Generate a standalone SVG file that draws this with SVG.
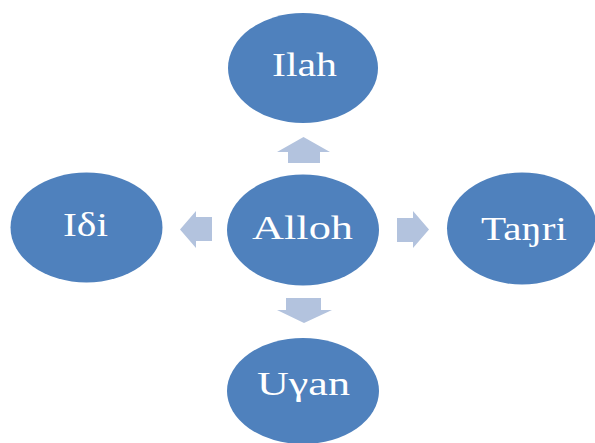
<svg xmlns="http://www.w3.org/2000/svg" width="595" height="443" viewBox="0 0 595 443">
<style>
.node{fill:#4F81BD;}
.lbl{fill:#FFFFFF;font-family:"Liberation Serif","DejaVu Serif",serif;font-size:33px;text-anchor:middle;}
.arr{fill:#B3C3DE;}
</style>
<rect width="595" height="443" fill="#FFFFFF"/>
<g id="connectors">
<polygon class="arr" points="288,163 288,152 277,152 303.5,137 330,152 320,152 320,163"/>
<polygon class="arr" points="212,217 196,217 196,211 180,229.5 196,248 196,241 212,241"/>
<polygon class="arr" points="397,218 413,218 413,211 429,229.5 413,248 413,242 397,242"/>
<polygon class="arr" points="286,298 286,310 277,310 304,323 332,310 321,310 321,298"/>
</g>
<g id="ilah"><ellipse class="node" cx="303" cy="68" rx="75" ry="55"/><text class="lbl" x="304.5" y="76" textLength="65" lengthAdjust="spacingAndGlyphs">Ilah</text></g>
<g id="alloh"><ellipse class="node" cx="303" cy="230" rx="76" ry="55.5"/><text class="lbl" x="302.5" y="239" textLength="101" lengthAdjust="spacingAndGlyphs">Alloh</text></g>
<g id="idi"><ellipse class="node" cx="86.5" cy="227.5" rx="76" ry="55"/><text class="lbl" x="85.5" y="236" textLength="45" lengthAdjust="spacingAndGlyphs">Iδi</text></g>
<g id="tanri"><ellipse class="node" cx="522" cy="228.5" rx="75" ry="56"/><text class="lbl" x="524" y="240" textLength="86" lengthAdjust="spacingAndGlyphs">Taŋri</text></g>
<g id="uyan"><ellipse class="node" cx="303" cy="391" rx="76" ry="53"/><text class="lbl" x="303.5" y="395" textLength="93" lengthAdjust="spacingAndGlyphs">Uγan</text></g>
</svg>
